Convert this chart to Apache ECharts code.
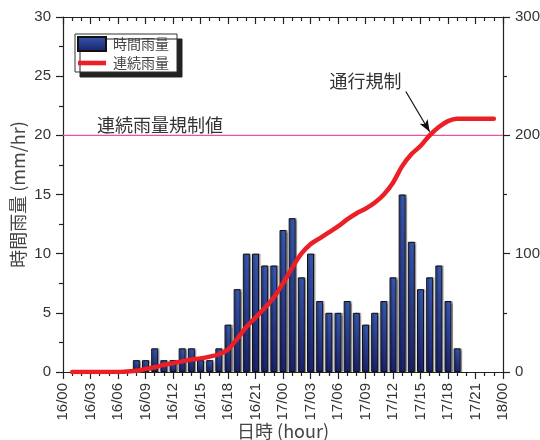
<!DOCTYPE html>
<html>
<head>
<meta charset="utf-8">
<script src="https://cdn.jsdelivr.net/npm/echarts@6/dist/echarts.min.js"></script>
<style>
  html, body { margin: 0; padding: 0; background: #fff; }
  #chart { width: 540px; height: 440px; }
</style>
</head>
<body>
<div id="chart"></div>
<script>
// Hourly rainfall (mm/hr), one bar per hour, hours counted from 16/00
var barHours  = [8, 9, 10, 11, 12, 13, 14, 15, 16, 17, 18, 19, 20, 21, 22, 23, 24, 25,
                 26, 27, 28, 29, 30, 31, 32, 33, 34, 35, 36, 37, 38, 39, 40, 41, 42, 43];
var hourlyRain = [1, 1, 2, 1, 1, 2, 2, 1, 1, 2, 4, 7, 10, 10, 9, 9, 12, 13,
                  8, 10, 6, 5, 5, 6, 5, 4, 5, 6, 8, 15, 11, 7, 8, 9, 6, 2];

// Continuous (cumulative) rainfall curve, mm
var lineHours = [1, 2, 3, 4, 5, 6, 7, 8, 9, 10, 11, 12, 13, 14, 15, 16, 17, 18, 19, 20,
                 21, 22, 23, 24, 25, 26, 27, 28, 29, 30, 31, 32, 33, 34, 35, 36, 37, 38,
                 39, 40, 41, 42, 43, 44, 45, 46, 47];
var continuousRain = [0, 0, 0, 0, 0, 0, 0.5, 1, 2.5, 4, 6, 7.5, 9, 10.5, 11.5, 13, 15, 19, 28, 38,
                      46, 54, 63, 75, 88, 100, 108, 113, 118, 123, 129, 134, 138, 143, 150, 160, 174, 184,
                      191, 200, 207, 212, 214, 214, 214, 214, 214];

// Regulation threshold (mm/hr axis) and traffic-restriction note
var thresholdValue = 20;
var thresholdSpan = [0, 48];
var thresholdLabel = '連続雨量規制値';
var thresholdLabelAt = [3.7, 20.9];
var restrictionLabel = '通行規制';
var restrictionArrow = [[37.4, 237], [40.0, 203]];
var restrictionTextAt = [33.0, 246];

// Time-axis tick labels, every 3 hours
var timeTickLabels = ['16/00', '16/03', '16/06', '16/09', '16/12', '16/15', '16/18', '16/21',
                      '17/00', '17/03', '17/06', '17/09', '17/12', '17/15', '17/18', '17/21', '18/00'];

var seriesNames = ['時間雨量', '連続雨量'];

function toPairs(xs, ys) {
  return xs.map(function (x, i) { return [x, ys[i]]; });
}

var FONT = '"Liberation Sans", "Noto Sans CJK JP", sans-serif';
var CJK = '"Noto Sans CJK JP", "Liberation Sans", sans-serif';
var AXIS = '#222';
var RED = '#ec1f27';
var PINK = '#f2509c';

var chart = echarts.init(document.getElementById('chart'), null, { renderer: 'canvas' });

function lineSt() { return { color: AXIS, width: 1.2 }; }

chart.setOption({
  animation: false,
  backgroundColor: '#fff',
  grid: { left: 63, right: 37, top: 17, bottom: 68, containLabel: false, outerBoundsMode: 'none' },
  legend: {
    orient: 'vertical',
    left: 75,
    top: 34,
    data: [
      { name: seriesNames[0], icon: 'rect' },
      { name: seriesNames[1], icon: 'path://M0,0H40V6.5H0Z' }
    ],
    symbolKeepAspect: true,
    padding: [2, 8, 2, 2],
    itemGap: 4,
    itemWidth: 28,
    itemHeight: 14,
    backgroundColor: '#fff',
    borderColor: '#333',
    borderWidth: 1,
    borderRadius: 0,
    shadowColor: '#222',
    shadowBlur: 0,
    shadowOffsetX: 5,
    shadowOffsetY: 5,
    textStyle: { fontFamily: CJK, fontSize: 14, color: '#444', padding: [0, 0, 0, 2] }
  },
  xAxis: [{
    type: 'value',
    min: 0, max: 48, interval: 3,
    position: 'bottom',
    axisLine: { show: true, onZero: false, lineStyle: lineSt() },
    axisTick: { show: true, inside: false, length: 7, lineStyle: lineSt() },
    minorTick: { show: true, splitNumber: 3, length: 4, lineStyle: lineSt() },
    splitLine: { show: false },
    axisLabel: {
      rotate: 90, margin: 11, fontFamily: FONT, fontSize: 15, color: '#333',
      formatter: function (v) { return timeTickLabels[Math.round(v / 3)]; }
    },
    name: '日時 (hour)',
    nameLocation: 'middle',
    nameGap: 50,
    nameMoveOverlap: false,
    nameTextStyle: { fontFamily: CJK, fontSize: 18, color: '#444' }
  }, {
    type: 'value',
    min: 0, max: 48, interval: 3,
    position: 'top',
    axisLine: { show: true, onZero: false, lineStyle: lineSt() },
    axisTick: { show: true, inside: true, length: 7, lineStyle: lineSt() },
    minorTick: { show: true, splitNumber: 3, length: 4, lineStyle: lineSt() },
    splitLine: { show: false },
    axisLabel: { show: false }
  }],
  yAxis: [{
    type: 'value',
    min: 0, max: 30, interval: 5,
    position: 'left',
    axisLine: { show: true, onZero: false, lineStyle: lineSt() },
    axisTick: { show: true, inside: false, length: 7, lineStyle: lineSt() },
    minorTick: { show: true, splitNumber: 2, length: 4, lineStyle: lineSt() },
    splitLine: { show: false },
    axisLabel: { margin: 12, fontFamily: FONT, fontSize: 15, color: '#333' },
    name: '時間雨量 (mm/hr)',
    nameLocation: 'middle',
    nameGap: 36,
    nameMoveOverlap: false,
    nameTextStyle: { fontFamily: CJK, fontSize: 18, color: '#444' }
  }, {
    type: 'value',
    min: 0, max: 300, interval: 100,
    position: 'right',
    axisLine: { show: true, onZero: false, lineStyle: lineSt() },
    axisTick: { show: true, inside: false, length: 7, lineStyle: lineSt() },
    minorTick: { show: true, splitNumber: 2, length: 4, lineStyle: lineSt() },
    splitLine: { show: false },
    axisLabel: { margin: 12, fontFamily: FONT, fontSize: 15, color: '#333' }
  }],
  series: [{
    // regulation threshold as a flat line across the whole time range
    name: 'threshold',
    type: 'line',
    xAxisIndex: 0,
    yAxisIndex: 0,
    data: thresholdSpan.map(function (h) { return [h, thresholdValue]; }),
    symbol: 'none',
    silent: true,
    lineStyle: { color: PINK, width: 1.4 },
    itemStyle: { color: PINK },
    markPoint: {
      silent: true,
      symbol: 'circle',
      symbolSize: 0,
      label: {
        show: true, position: 'right', distance: 0, formatter: thresholdLabel,
        fontFamily: CJK, fontSize: 18, color: '#333'
      },
      data: [{ coord: thresholdLabelAt }]
    },
    z: 1
  }, {
    name: seriesNames[0],
    type: 'bar',
    xAxisIndex: 0,
    yAxisIndex: 0,
    data: toPairs(barHours, hourlyRain),
    barWidth: 7,
    itemStyle: {
      color: new echarts.graphic.LinearGradient(0, 0, 0, 1, [
        { offset: 0, color: '#3656ad' },
        { offset: 1, color: '#1b216c' }
      ]),
      borderColor: '#111',
      borderWidth: 1,
      shadowColor: 'rgba(0,0,0,0.3)',
      shadowOffsetX: 1.5,
      shadowBlur: 1
    },
    z: 2
  }, {
    name: seriesNames[1],
    type: 'line',
    xAxisIndex: 0,
    yAxisIndex: 1,
    data: toPairs(lineHours, continuousRain),
    smooth: 0.35,
    symbol: 'none',
    lineStyle: { color: RED, width: 4.5, cap: 'round', join: 'round' },
    itemStyle: { color: RED },
    markLine: {
      silent: true,
      symbol: ['none', 'arrow'],
      symbolSize: [7, 12],
      lineStyle: { color: '#111', width: 1.2, type: 'solid' },
      label: { show: false },
      data: [[{ coord: restrictionArrow[0] }, { coord: restrictionArrow[1] }]]
    },
    markPoint: {
      silent: true,
      symbol: 'circle',
      symbolSize: 0,
      label: {
        show: true, position: 'inside', formatter: restrictionLabel,
        fontFamily: CJK, fontSize: 18, color: '#333'
      },
      data: [{ coord: restrictionTextAt }]
    },
    z: 3
  }]
});
</script>
</body>
</html>
